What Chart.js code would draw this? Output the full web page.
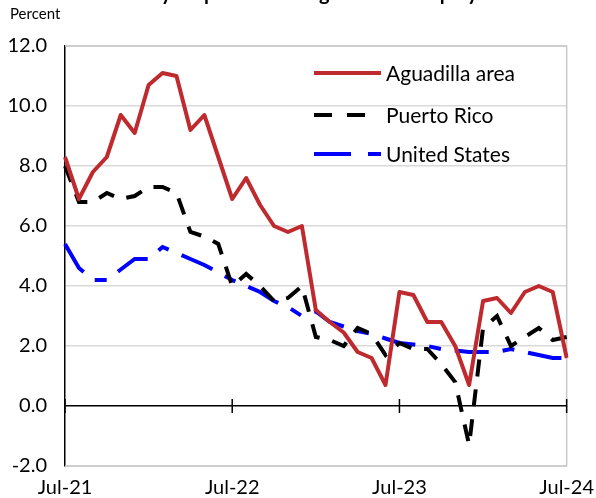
<!DOCTYPE html>
<html>
<head>
<meta charset="utf-8">
<script src="https://cdn.jsdelivr.net/npm/chart.js@4/dist/chart.umd.min.js"></script>
<style>
  html, body { margin: 0; padding: 0; background: #fff; overflow: hidden; }
  #wrap { position: relative; width: 596px; height: 498px; }
  #title { position: absolute; top: -20px; left: 0; width: 596px; text-align: center;
           font: bold 20px Lato, sans-serif; color: #000; white-space: nowrap; }
  canvas { position: absolute; top: 0; left: 0; }
</style>
</head>
<body>
<div id="wrap">
  <canvas id="c" width="596" height="498"></canvas>
  <div id="title">Over-the-year percent change in total employment</div>
</div>
<script>
// monthly, Jul-21 .. Jul-24
const months = [
  'Jul-21','Aug-21','Sep-21','Oct-21','Nov-21','Dec-21','Jan-22','Feb-22','Mar-22','Apr-22','May-22','Jun-22',
  'Jul-22','Aug-22','Sep-22','Oct-22','Nov-22','Dec-22','Jan-23','Feb-23','Mar-23','Apr-23','May-23','Jun-23',
  'Jul-23','Aug-23','Sep-23','Oct-23','Nov-23','Dec-23','Jan-24','Feb-24','Mar-24','Apr-24','May-24','Jun-24',
  'Jul-24'
];
const aguadilla = [8.3, 6.9, 7.8, 8.3, 9.7, 9.1, 10.7, 11.1, 11.0, 9.2, 9.7, 8.3,
  6.9, 7.6, 6.7, 6.0, 5.8, 6.0, 3.2, 2.8, 2.45, 1.8, 1.6, 0.7,
  3.8, 3.7, 2.8, 2.8, 2.0, 0.7, 3.5, 3.6, 3.1, 3.8, 4.0, 3.8, 1.6];
const puertoRico = [8.0, 6.8, 6.8, 7.1, 6.9, 7.0, 7.3, 7.3, 7.1, 5.8, 5.65, 5.4,
  4.0, 4.4, 4.0, 3.5, 3.6, 4.0, 2.3, 2.2, 2.0, 2.6, 2.4, 1.7,
  2.1, 1.9, 1.9, 1.4, 0.8, -1.3, 2.6, 3.0, 2.0, 2.3, 2.6, 2.2, 2.3];
const unitedStates = [5.4, 4.6, 4.2, 4.2, 4.55, 4.9, 4.9, 5.3, 5.1, 4.9, 4.7, 4.45,
  4.2, 4.0, 3.8, 3.5, 3.3, 3.0, 3.15, 2.8, 2.65, 2.5, 2.4, 2.25,
  2.1, 2.05, 2.0, 1.9, 1.85, 1.8, 1.8, 1.8, 1.9, 1.8, 1.7, 1.6, 1.6];
const labeledMonths = ['Jul-21', 'Jul-22', 'Jul-23', 'Jul-24'];

const FONT = 'Lato, "Open Sans", sans-serif';

// frame, zero-axis tick marks, in-plot legend, "Percent" label
const decor = {
  id: 'decor',
  beforeDatasetsDraw(chart) {
    const { ctx, chartArea: a, scales } = chart;
    ctx.save();
    ctx.strokeStyle = '#c8c8c8';
    ctx.lineWidth = 1.5;
    ctx.beginPath();
    ctx.moveTo(a.left, a.top); ctx.lineTo(a.right, a.top);
    ctx.lineTo(a.right, a.bottom); ctx.lineTo(a.left, a.bottom);
    ctx.stroke();
    const y0 = scales.y.getPixelForValue(0);
    ctx.strokeStyle = '#000';
    ctx.lineWidth = 1.5;
    labeledMonths.forEach(m => {
      const x = scales.x.getPixelForValue(months.indexOf(m));
      ctx.beginPath(); ctx.moveTo(x, y0 - 7); ctx.lineTo(x, y0 + 7); ctx.stroke();
    });
    ctx.restore();
  },
  afterDraw(chart) {
    const { ctx } = chart;
    ctx.save();
    ctx.fillStyle = '#000';
    ctx.font = '15px ' + FONT;
    ctx.textBaseline = 'middle';
    ctx.fillText('Percent', 10, 14);
    const rows = [73, 115, 154];
    ctx.font = '21px ' + FONT;
    chart.data.datasets.forEach((ds, i) => {
      const y = rows[i];
      ctx.strokeStyle = ds.borderColor;
      ctx.lineWidth = ds.borderWidth;
      ctx.setLineDash(ds.legendDash || []);
      ctx.beginPath(); ctx.moveTo(314, y); ctx.lineTo(381, y); ctx.stroke();
      ctx.setLineDash([]);
      ctx.fillStyle = '#000';
      ctx.fillText(ds.label, 386, y + 1);
    });
    ctx.restore();
  }
};

new Chart(document.getElementById('c'), {
  type: 'line',
  data: {
    labels: months,
    datasets: [
      { label: 'Aguadilla area', data: aguadilla, borderColor: '#be2a2e', borderWidth: 4,
        tension: 0, pointRadius: 0, fill: false, borderJoinStyle: 'round' },
      { label: 'Puerto Rico', data: puertoRico, borderColor: '#000000', borderWidth: 4,
        borderDash: [17, 13], legendDash: [18, 15, 18, 40], tension: 0, pointRadius: 0, fill: false },
      { label: 'United States', data: unitedStates, borderColor: '#0000ff', borderWidth: 4,
        borderDash: [34, 14, 12, 14], legendDash: [37, 17, 13, 0], tension: 0, pointRadius: 0, fill: false },
    ]
  },
  plugins: [decor],
  options: {
    responsive: false,
    animation: false,
    layout: { padding: { top: 46, right: 18, left: 0, bottom: 0 } },
    plugins: { legend: { display: false }, tooltip: { enabled: false } },
    scales: {
      x: {
        grid: { display: false },
        border: { display: false },
        ticks: {
          autoSkip: false, maxRotation: 0, padding: 2, color: '#000',
          font: { family: FONT, size: 20 },
          callback: (v, i) => labeledMonths.includes(months[i]) ? months[i] : null
        },
        afterFit: s => { s.height = 32; }
      },
      y: {
        min: -2, max: 12,
        ticks: { stepSize: 2, padding: 18, color: '#000', font: { family: FONT, size: 20 },
                 callback: v => v.toFixed(1) },
        grid: { drawTicks: false, lineWidth: 1.5,
                color: c => c.tick.value === 0 ? '#000' : '#d9d9d9' },
        border: { display: true, color: '#000', width: 1.5 },
        afterFit: s => { s.width = 65; }
      }
    }
  }
});
</script>
</body>
</html>
